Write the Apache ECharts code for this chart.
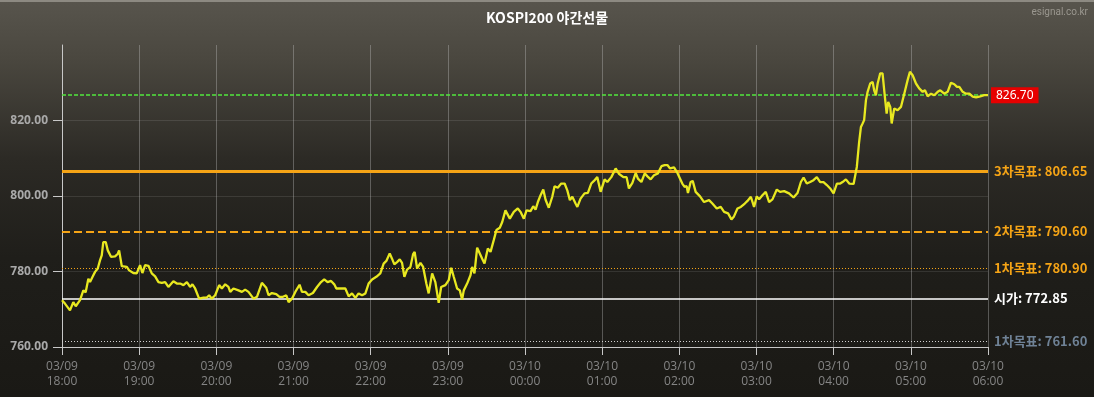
<!DOCTYPE html>
<html>
<head>
<meta charset="utf-8">
<script src="https://cdn.jsdelivr.net/npm/echarts@6/dist/echarts.min.js"></script>
<style>
html,body{margin:0;padding:0;background:#1b1a16;}
#chart{width:1094px;height:397px;}
</style>
</head>
<body>
<div id="chart"></div>
<script>
// ---- data (minutes after 03/09 18:00, price) ----
const tickLabels = ['03/09\n18:00','03/09\n19:00','03/09\n20:00','03/09\n21:00','03/09\n22:00','03/09\n23:00',
  '03/10\n00:00','03/10\n01:00','03/10\n02:00','03/10\n03:00','03/10\n04:00','03/10\n05:00','03/10\n06:00'];
const yTicks = [760, 780, 800, 820, 840];
const priceTicks = [
 [0,772.4],[2.3,771.5],[6.2,769.7],[8.8,771.9],[10.7,770.8],[14.0,772.4],[16.6,775.0],[18.4,774.5],[20.5,778.1],[21.8,777.2],
 [23.6,778.5],[25.7,779.9],[27.8,780.8],[29.6,783.0],[30.9,784.3],[32.1,787.8],[34.0,787.8],[35.6,785.6],[38.1,783.9],[41.3,784.0],
 [43.4,784.7],[44.4,785.6],[46.5,781.4],[50.4,781.2],[52.2,780.3],[55.5,779.6],[58.1,779.5],[60.7,781.7],[62.5,779.6],[64.6,781.7],
 [67.2,781.5],[69.8,779.5],[72.4,778.7],[75.0,777.2],[77.6,777.0],[80.2,777.2],[82.7,775.9],[86.6,777.4],[89.3,776.8],[91.9,776.8],
 [94.4,776.4],[97.1,777.2],[99.6,775.9],[101.4,776.6],[103.5,775.5],[106.6,772.8],[110.0,773.1],[112.6,773.1],[114.4,773.7],[116.5,772.8],
 [119.1,773.7],[122.2,776.4],[124.3,775.5],[126.9,776.6],[129.4,775.9],[130.8,774.6],[133.3,775.5],[137.2,775.0],[139.9,774.6],[142.4,775.2],
 [145.0,774.6],[148.9,772.8],[151.6,773.3],[155.4,777.0],[158.8,775.7],[160.6,773.7],[163.2,774.3],[166.6,774.0],[169.1,773.3],[171.8,773.3],
 [174.4,773.7],[176.2,771.9],[178.8,772.8],[181.4,774.6],[184.7,776.5],[186.6,774.6],[189.2,774.6],[191.7,773.7],[195.1,774.3],[198.3,775.9],
 [201.4,777.2],[203.9,777.9],[206.5,777.2],[209.2,777.5],[211.7,776.6],[213.3,775.5],[216.4,775.5],[220.3,775.5],[222.9,773.4],[225.5,774.2],
 [228.1,773.0],[230.6,774.2],[233.3,773.7],[235.9,774.2],[238.4,776.8],[241.1,777.9],[244.4,778.6],[247.5,779.5],[250.1,782.1],[252.2,782.8],
 [254.8,784.8],[256.6,783.4],[258.4,781.9],[260.5,782.5],[262.6,783.2],[264.4,782.3],[266.2,778.6],[268.3,780.5],[270.9,781.2],[273.0,784.6],
 [274.2,785.2],[276.1,780.8],[278.7,782.3],[280.8,781.2],[283.3,776.8],[285.1,774.2],[287.8,779.5],[290.3,777.2],[292.9,771.7],[294.8,775.9],
 [298.1,776.4],[300.7,777.7],[302.6,781.0],[304.6,778.6],[307.2,775.5],[309.3,775.0],[311.1,772.6],[312.4,775.0],[315.0,776.8],[317.6,779.0],
 [318.9,781.2],[320.7,779.5],[322.8,786.3],[324.0,786.1],[326.7,783.4],[328.5,782.1],[331.1,786.1],[333.2,785.2],[335.7,788.3],[337.8,791.0],
 [340.4,791.6],[342.3,793.1],[344.8,796.2],[348.2,794.0],[351.3,795.8],[354.4,796.7],[356.5,795.8],[359.1,794.0],[361.2,796.2],[364.3,796.0],
 [366.4,797.3],[368.2,796.4],[370.0,798.4],[372.1,800.2],[374.2,801.7],[376.0,799.0],[378.5,796.9],[381.2,799.8],[383.0,802.6],[385.5,802.2],
 [388.2,803.3],[390.8,803.3],[392.9,801.5],[394.9,798.9],[396.8,799.8],[399.3,798.0],[400.7,797.1],[403.2,799.3],[406.3,800.7],[408.9,800.8],
 [411.5,803.3],[413.6,804.0],[416.2,805.0],[418.8,801.1],[421.9,804.4],[424.0,803.7],[427.1,805.0],[430.5,807.3],[433.0,805.9],[436.5,805.0],
 [439.0,805.0],[440.8,802.0],[443.5,803.5],[446.1,806.1],[447.8,804.6],[450.5,803.7],[453.1,806.0],[455.2,805.2],[457.7,804.4],[460.3,805.5],
 [463.4,806.0],[466.1,807.9],[468.6,808.2],[470.7,808.2],[472.8,807.3],[475.9,807.6],[478.5,806.1],[480.0,806.0],[482.3,803.3],[484.1,802.4],
 [485.7,802.6],[486.7,800.8],[488.8,803.7],[490.4,804.0],[492.7,801.1],[496.1,799.9],[499.2,798.4],[503.1,798.9],[505.7,798.0],[509.1,796.7],
 [512.2,797.1],[514.8,795.8],[517.9,795.4],[520.5,793.8],[522.5,794.6],[525.2,796.7],[527.8,797.1],[530.9,798.0],[533.0,798.7],[535.6,799.8],
 [538.1,797.1],[540.2,799.9],[542.0,799.1],[544.6,800.2],[547.2,801.1],[549.8,798.4],[552.4,799.1],[555.8,801.7],[558.3,801.1],[561.5,801.3],
 [565.3,800.7],[568.8,799.6],[571.9,800.8],[574.5,803.7],[576.6,804.9],[579.1,803.3],[581.7,803.7],[584.3,804.2],[586.9,805.0],[589.5,803.7],
 [592.1,803.7],[594.7,802.9],[597.3,802.0],[599.9,800.7],[602.5,803.3],[605.1,803.3],[606.9,803.7],[609.5,804.4],[612.1,803.3],[615.5,803.2],
 [618.0,807.7],[619.8,814.3],[621.2,818.3],[622.5,819.2],[623.7,820.1],[625.1,825.4],[626.4,827.6],[628.4,829.8],[630.3,830.2],[631.5,828.0],
 [632.8,826.7],[634.2,829.8],[636.2,832.5],[638.0,832.5],[639.8,826.3],[641.2,821.8],[642.4,824.9],[644.0,823.6],[645.1,819.2],[647.1,823.2],
 [649.7,822.7],[652.3,823.6],[654.9,827.1],[657.5,830.7],[659.3,832.9],[661.4,832.0],[664.0,829.8],[666.5,828.5],[669.2,827.6],[671.0,828.0],
 [673.1,826.4],[675.7,827.1],[678.2,826.7],[680.9,827.6],[682.9,828.0],[686.0,827.1],[688.6,827.6],[691.2,830.0],[693.8,829.6],[695.9,828.9],
 [697.7,828.9],[700.3,827.6],[702.9,827.1],[705.5,827.1],[708.1,826.3],[710.7,826.1],[714.0,826.4],[717.1,826.7],[720.0,826.7]
];
const lastPrice = 826.70;
const levelNames = ['3차목표', '2차목표', '1차목표', '시가', '1차목표'];
const levelValues = [806.65, 790.60, 780.90, 772.85, 761.60];
const levelColors = ['#f5a416', '#f5a416', '#f5a416', '#ffffff', '#6f8296'];
const levelLineStyles = [
  {width: 3, type: 'solid'},
  {width: 2, type: [8, 4]},
  {width: 1, type: [1, 2]},
  {width: 1.5, type: 'solid'},
  {width: 1, type: [1, 2]}
];
const levelLineColors = ['#f5a416', '#f5a416', '#f5a416', '#ffffff', '#cfcfcf'];

const chart = echarts.init(document.getElementById('chart'), null, {renderer: 'canvas'});

const levelMarks = levelValues.map((v, i) => ({
  name: levelNames[i],
  yAxis: v,
  lineStyle: Object.assign({color: levelLineColors[i], opacity: 1}, levelLineStyles[i]),
  label: {
    show: true, position: 'end', distance: 6,
    formatter: levelNames[i] + ': ' + v.toFixed(2),
    color: levelColors[i], fontSize: 13, fontWeight: 'bold',
    fontFamily: '"Noto Sans CJK KR", sans-serif'
  }
}));
levelMarks.push({
  name: 'last', yAxis: lastPrice,
  lineStyle: {color: '#52e83e', width: 1.6, type: [4, 2], opacity: 1},
  label: {
    show: true, position: 'end', distance: 3,
    formatter: lastPrice.toFixed(2),
    color: '#ffffff', fontSize: 12, backgroundColor: '#e60000',
    padding: [2, 5, 2, 5], fontFamily: '"Noto Sans", sans-serif'
  }
});

const option = {
  animation: false,
  backgroundColor: {
    type: 'linear', x: 0, y: 0, x2: 0, y2: 1,
    colorStops: [
      {offset: 0, color: '#58554d'},
      {offset: 0.15, color: '#4a473f'},
      {offset: 0.4, color: '#2c2a25'},
      {offset: 0.65, color: '#1f1e1a'},
      {offset: 1, color: '#1a1915'}
    ]
  },
  title: {
    text: 'KOSPI200 야간선물', left: 'center', top: 6,
    textStyle: {color: '#ffffff', fontSize: 14, fontWeight: 'bold', fontFamily: '"Noto Sans CJK KR", sans-serif'}
  },
  graphic: [
    {type: 'rect', left: 0, top: 0, shape: {width: 1094, height: 2}, style: {fill: '#8d8a82'}},
    {type: 'text', right: 6, top: 7, style: {text: 'esignal.co.kr', fill: '#9a978f', fontSize: 10, fontFamily: 'Roboto, sans-serif'}}
  ],
  grid: {left: 62, right: 106, top: 45, bottom: 50, containLabel: false},
  xAxis: {
    type: 'value', min: 0, max: 720, interval: 60,
    axisLine: {show: true, lineStyle: {color: '#c8c8c8', width: 1}},
    axisTick: {show: true, length: 8, lineStyle: {color: '#c8c8c8'}},
    axisLabel: {
      color: '#858585', fontSize: 12, lineHeight: 15, margin: 12,
      fontFamily: '"Open Sans", sans-serif',
      formatter: v => tickLabels[Math.round(v / 60)] || ''
    },
    splitLine: {show: true, lineStyle: {color: 'rgba(200,200,200,0.35)', width: 1}}
  },
  yAxis: {
    type: 'value', min: yTicks[0], max: yTicks[yTicks.length - 1], interval: 20,
    axisLine: {show: true, lineStyle: {color: '#c8c8c8', width: 1}},
    axisTick: {show: true, length: 9, lineStyle: {color: '#c8c8c8'}},
    axisLabel: {
      color: '#a9a9a9', fontSize: 12, fontWeight: 'bold', margin: 14,
      fontFamily: '"Open Sans", sans-serif', showMaxLabel: false,
      formatter: v => (v >= yTicks[yTicks.length - 1] ? '' : v.toFixed(2))
    },
    splitLine: {show: true, showMaxLine: false, lineStyle: {color: 'rgba(255,255,255,0.1)', width: 1}}
  },
  series: [
    {
      type: 'line', z: 1, data: [], silent: true,
      markLine: {symbol: 'none', silent: true, animation: false, data: levelMarks}
    },
    {
      type: 'line', z: 5, data: priceTicks, showSymbol: false, smooth: false,
      lineStyle: {color: '#e8e820', width: 2.3}, itemStyle: {color: '#e8e820'}
    }
  ]
};
chart.setOption(option);
</script>
</body>
</html>
